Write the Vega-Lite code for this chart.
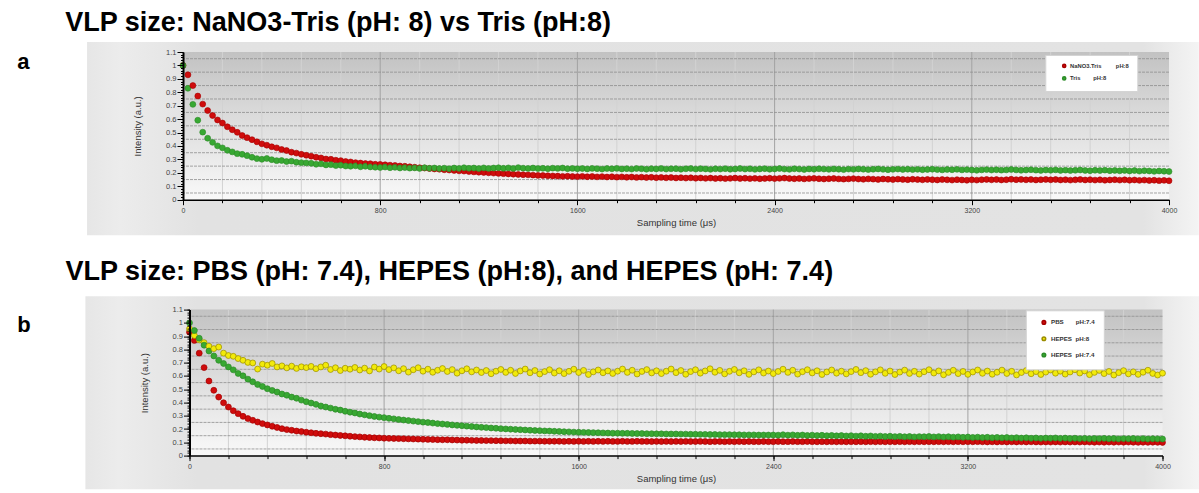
{
  "$schema": "https://vega.github.io/schema/vega-lite/v6.json",
  "background": "white",
  "padding": {"left": 17, "top": 8, "right": 0, "bottom": 0},
  "config": {"view": {"stroke": null}, "font": "Liberation Sans"},
  "spacing": 109.6,
  "bounds": "flush",
  "center": true,
  "resolve": {"scale": {"color": "independent", "stroke": "independent"}, "legend": {"color": "independent", "stroke": "independent"}},
  "datasets": {
    "vmin": [{"v":160},{"v":320},{"v":480},{"v":640},{"v":960},{"v":1120},{"v":1280},{"v":1440},{"v":1760},{"v":1920},{"v":2080},{"v":2240},{"v":2560},{"v":2720},{"v":2880},{"v":3040},{"v":3360},{"v":3520},{"v":3680},{"v":3840}],
    "vmaj": [{"v":800},{"v":1600},{"v":2400},{"v":3200}],
    "hg": [{"v":0.05},{"v":0.15},{"v":0.25},{"v":0.35},{"v":0.45},{"v":0.55},{"v":0.65},{"v":0.75},{"v":0.85},{"v":0.95},{"v":1.05}],
    "a": [
{"t":0,"r":1,"g":1},{"t":20,"r":0.93,"g":0.83},{"t":40,"r":0.85,"g":0.71},{"t":60,"r":0.772,"g":0.592},{"t":80,"r":0.712,"g":0.503},{"t":100,"r":0.664,"g":0.458},{"t":120,"r":0.627,"g":0.427},{"t":140,"r":0.594,"g":0.401},{"t":160,"r":0.571,"g":0.386},{"t":180,"r":0.543,"g":0.368},
{"t":200,"r":0.521,"g":0.356},{"t":220,"r":0.502,"g":0.343},{"t":240,"r":0.478,"g":0.338},{"t":260,"r":0.462,"g":0.328},{"t":280,"r":0.447,"g":0.316},{"t":300,"r":0.431,"g":0.306},{"t":320,"r":0.416,"g":0.301},{"t":340,"r":0.406,"g":0.307},{"t":360,"r":0.394,"g":0.298},{"t":380,"r":0.386,"g":0.291},
{"t":400,"r":0.374,"g":0.292},{"t":420,"r":0.366,"g":0.284},{"t":440,"r":0.354,"g":0.287},{"t":460,"r":0.347,"g":0.279},{"t":480,"r":0.338,"g":0.276},{"t":500,"r":0.331,"g":0.274},{"t":520,"r":0.324,"g":0.271},{"t":540,"r":0.316,"g":0.264},{"t":560,"r":0.311,"g":0.267},{"t":580,"r":0.303,"g":0.259},
{"t":600,"r":0.301,"g":0.261},{"t":620,"r":0.294,"g":0.254},{"t":640,"r":0.291,"g":0.257},{"t":660,"r":0.284,"g":0.251},{"t":680,"r":0.281,"g":0.249},{"t":700,"r":0.276,"g":0.252},{"t":720,"r":0.273,"g":0.245},{"t":740,"r":0.269,"g":0.249},{"t":760,"r":0.268,"g":0.244},{"t":780,"r":0.264,"g":0.242},
{"t":800,"r":0.263,"g":0.24},{"t":820,"r":0.26,"g":0.243},{"t":840,"r":0.257,"g":0.238},{"t":860,"r":0.255,"g":0.241},{"t":880,"r":0.251,"g":0.236},{"t":900,"r":0.249,"g":0.239},{"t":920,"r":0.245,"g":0.235},{"t":940,"r":0.242,"g":0.237},{"t":960,"r":0.238,"g":0.233},{"t":980,"r":0.236,"g":0.238},
{"t":1000,"r":0.232,"g":0.234},{"t":1020,"r":0.229,"g":0.236},{"t":1040,"r":0.227,"g":0.232},{"t":1060,"r":0.223,"g":0.235},{"t":1080,"r":0.221,"g":0.231},{"t":1100,"r":0.218,"g":0.236},{"t":1120,"r":0.215,"g":0.233},{"t":1140,"r":0.213,"g":0.238},{"t":1160,"r":0.21,"g":0.234},{"t":1180,"r":0.207,"g":0.236},
{"t":1200,"r":0.205,"g":0.232},{"t":1220,"r":0.203,"g":0.237},{"t":1240,"r":0.2,"g":0.233},{"t":1260,"r":0.198,"g":0.236},{"t":1280,"r":0.196,"g":0.238},{"t":1300,"r":0.194,"g":0.234},{"t":1320,"r":0.192,"g":0.237},{"t":1340,"r":0.19,"g":0.233},{"t":1360,"r":0.188,"g":0.239},{"t":1380,"r":0.186,"g":0.235},
{"t":1400,"r":0.185,"g":0.233},{"t":1420,"r":0.183,"g":0.236},{"t":1440,"r":0.181,"g":0.232},{"t":1460,"r":0.18,"g":0.234},{"t":1480,"r":0.178,"g":0.231},{"t":1500,"r":0.177,"g":0.235},{"t":1520,"r":0.176,"g":0.233},{"t":1540,"r":0.174,"g":0.236},{"t":1560,"r":0.175,"g":0.231},{"t":1580,"r":0.173,"g":0.233},
{"t":1600,"r":0.172,"g":0.23},{"t":1620,"r":0.174,"g":0.232},{"t":1640,"r":0.171,"g":0.229},{"t":1660,"r":0.173,"g":0.233},{"t":1680,"r":0.17,"g":0.231},{"t":1700,"r":0.172,"g":0.228},{"t":1720,"r":0.169,"g":0.232},{"t":1740,"r":0.171,"g":0.23},{"t":1760,"r":0.168,"g":0.233},{"t":1780,"r":0.17,"g":0.229},
{"t":1800,"r":0.167,"g":0.231},{"t":1820,"r":0.169,"g":0.228},{"t":1840,"r":0.166,"g":0.232},{"t":1860,"r":0.168,"g":0.23},{"t":1880,"r":0.165,"g":0.227},{"t":1900,"r":0.167,"g":0.231},{"t":1920,"r":0.164,"g":0.229},{"t":1940,"r":0.166,"g":0.232},{"t":1960,"r":0.163,"g":0.228},{"t":1980,"r":0.165,"g":0.23},
{"t":2000,"r":0.162,"g":0.231},{"t":2020,"r":0.164,"g":0.227},{"t":2040,"r":0.161,"g":0.23},{"t":2060,"r":0.163,"g":0.232},{"t":2080,"r":0.16,"g":0.228},{"t":2100,"r":0.162,"g":0.231},{"t":2120,"r":0.159,"g":0.229},{"t":2140,"r":0.161,"g":0.226},{"t":2160,"r":0.158,"g":0.23},{"t":2180,"r":0.16,"g":0.228},
{"t":2200,"r":0.157,"g":0.231},{"t":2220,"r":0.159,"g":0.227},{"t":2240,"r":0.161,"g":0.229},{"t":2260,"r":0.158,"g":0.232},{"t":2280,"r":0.16,"g":0.228},{"t":2300,"r":0.157,"g":0.23},{"t":2320,"r":0.159,"g":0.226},{"t":2340,"r":0.156,"g":0.229},{"t":2360,"r":0.158,"g":0.231},{"t":2380,"r":0.16,"g":0.227},
{"t":2400,"r":0.157,"g":0.229},{"t":2420,"r":0.159,"g":0.232},{"t":2440,"r":0.161,"g":0.228},{"t":2460,"r":0.158,"g":0.226},{"t":2480,"r":0.156,"g":0.23},{"t":2500,"r":0.158,"g":0.228},{"t":2520,"r":0.155,"g":0.225},{"t":2540,"r":0.157,"g":0.229},{"t":2560,"r":0.159,"g":0.227},{"t":2580,"r":0.156,"g":0.23},
{"t":2600,"r":0.154,"g":0.228},{"t":2620,"r":0.156,"g":0.226},{"t":2640,"r":0.158,"g":0.229},{"t":2660,"r":0.155,"g":0.227},{"t":2680,"r":0.153,"g":0.224},{"t":2700,"r":0.155,"g":0.228},{"t":2720,"r":0.157,"g":0.226},{"t":2740,"r":0.154,"g":0.229},{"t":2760,"r":0.152,"g":0.227},{"t":2780,"r":0.155,"g":0.224},
{"t":2800,"r":0.153,"g":0.227},{"t":2820,"r":0.151,"g":0.229},{"t":2840,"r":0.154,"g":0.226},{"t":2860,"r":0.152,"g":0.223},{"t":2880,"r":0.15,"g":0.226},{"t":2900,"r":0.153,"g":0.228},{"t":2920,"r":0.151,"g":0.225},{"t":2940,"r":0.149,"g":0.227},{"t":2960,"r":0.152,"g":0.224},{"t":2980,"r":0.15,"g":0.226},
{"t":3000,"r":0.148,"g":0.223},{"t":3020,"r":0.151,"g":0.225},{"t":3040,"r":0.149,"g":0.227},{"t":3060,"r":0.147,"g":0.224},{"t":3080,"r":0.15,"g":0.222},{"t":3100,"r":0.148,"g":0.225},{"t":3120,"r":0.146,"g":0.223},{"t":3140,"r":0.149,"g":0.226},{"t":3160,"r":0.147,"g":0.222},{"t":3180,"r":0.145,"g":0.224},
{"t":3200,"r":0.148,"g":0.221},{"t":3220,"r":0.146,"g":0.219},{"t":3240,"r":0.149,"g":0.222},{"t":3260,"r":0.151,"g":0.224},{"t":3280,"r":0.148,"g":0.221},{"t":3300,"r":0.15,"g":0.223},{"t":3320,"r":0.147,"g":0.22},{"t":3340,"r":0.149,"g":0.222},{"t":3360,"r":0.152,"g":0.225},{"t":3380,"r":0.149,"g":0.222},
{"t":3400,"r":0.151,"g":0.219},{"t":3420,"r":0.148,"g":0.221},{"t":3440,"r":0.15,"g":0.223},{"t":3460,"r":0.147,"g":0.22},{"t":3480,"r":0.149,"g":0.218},{"t":3500,"r":0.151,"g":0.221},{"t":3520,"r":0.148,"g":0.219},{"t":3540,"r":0.15,"g":0.222},{"t":3560,"r":0.147,"g":0.218},{"t":3580,"r":0.149,"g":0.22},
{"t":3600,"r":0.146,"g":0.217},{"t":3620,"r":0.148,"g":0.219},{"t":3640,"r":0.15,"g":0.221},{"t":3660,"r":0.147,"g":0.218},{"t":3680,"r":0.149,"g":0.216},{"t":3700,"r":0.146,"g":0.219},{"t":3720,"r":0.148,"g":0.217},{"t":3740,"r":0.145,"g":0.22},{"t":3760,"r":0.147,"g":0.216},{"t":3780,"r":0.149,"g":0.218},
{"t":3800,"r":0.146,"g":0.215},{"t":3820,"r":0.148,"g":0.218},{"t":3840,"r":0.145,"g":0.214},{"t":3860,"r":0.147,"g":0.217},{"t":3880,"r":0.144,"g":0.213},{"t":3900,"r":0.146,"g":0.216},{"t":3920,"r":0.143,"g":0.214},{"t":3940,"r":0.145,"g":0.211},{"t":3960,"r":0.142,"g":0.214},{"t":3980,"r":0.144,"g":0.212},
{"t":4000,"r":0.141,"g":0.21}
    ],
    "b": [
{"t":0,"p":0.93,"y":0.955,"h":1},{"t":20,"p":0.868,"y":0.905,"h":0.942},{"t":40,"p":0.772,"y":0.872,"h":0.884},{"t":60,"p":0.663,"y":0.851,"h":0.832},{"t":80,"p":0.562,"y":0.824,"h":0.788},{"t":100,"p":0.492,"y":0.806,"h":0.751},{"t":120,"p":0.441,"y":0.818,"h":0.718},{"t":140,"p":0.398,"y":0.772,"h":0.694},{"t":160,"p":0.366,"y":0.754,"h":0.668},{"t":180,"p":0.338,"y":0.748,"h":0.646},
{"t":200,"p":0.316,"y":0.731,"h":0.619},{"t":220,"p":0.296,"y":0.718,"h":0.601},{"t":240,"p":0.279,"y":0.702,"h":0.576},{"t":260,"p":0.266,"y":0.698,"h":0.556},{"t":280,"p":0.253,"y":0.652,"h":0.536},{"t":300,"p":0.241,"y":0.689,"h":0.521},{"t":320,"p":0.231,"y":0.681,"h":0.504},{"t":340,"p":0.221,"y":0.694,"h":0.491},{"t":360,"p":0.212,"y":0.668,"h":0.479},{"t":380,"p":0.203,"y":0.676,"h":0.464},
{"t":400,"p":0.196,"y":0.661,"h":0.455},{"t":420,"p":0.191,"y":0.674,"h":0.441},{"t":440,"p":0.185,"y":0.657,"h":0.432},{"t":460,"p":0.181,"y":0.669,"h":0.418},{"t":480,"p":0.176,"y":0.663,"h":0.406},{"t":500,"p":0.172,"y":0.672,"h":0.396},{"t":520,"p":0.168,"y":0.655,"h":0.386},{"t":540,"p":0.165,"y":0.668,"h":0.374},{"t":560,"p":0.162,"y":0.681,"h":0.366},{"t":580,"p":0.158,"y":0.649,"h":0.358},
{"t":600,"p":0.155,"y":0.662,"h":0.349},{"t":620,"p":0.152,"y":0.641,"h":0.343},{"t":640,"p":0.149,"y":0.658,"h":0.334},{"t":660,"p":0.146,"y":0.651,"h":0.327},{"t":680,"p":0.143,"y":0.664,"h":0.321},{"t":700,"p":0.141,"y":0.645,"h":0.313},{"t":720,"p":0.138,"y":0.659,"h":0.307},{"t":740,"p":0.136,"y":0.638,"h":0.301},{"t":760,"p":0.134,"y":0.667,"h":0.295},{"t":780,"p":0.133,"y":0.652,"h":0.29},
{"t":800,"p":0.131,"y":0.671,"h":0.286},{"t":820,"p":0.13,"y":0.648,"h":0.281},{"t":840,"p":0.129,"y":0.661,"h":0.277},{"t":860,"p":0.128,"y":0.639,"h":0.272},{"t":880,"p":0.127,"y":0.655,"h":0.268},{"t":900,"p":0.126,"y":0.629,"h":0.264},{"t":920,"p":0.125,"y":0.647,"h":0.26},{"t":940,"p":0.124,"y":0.662,"h":0.256},{"t":960,"p":0.123,"y":0.636,"h":0.252},{"t":980,"p":0.122,"y":0.651,"h":0.249},
{"t":1000,"p":0.121,"y":0.628,"h":0.245},{"t":1020,"p":0.12,"y":0.643,"h":0.241},{"t":1040,"p":0.119,"y":0.656,"h":0.238},{"t":1060,"p":0.119,"y":0.634,"h":0.235},{"t":1080,"p":0.118,"y":0.648,"h":0.231},{"t":1100,"p":0.117,"y":0.621,"h":0.228},{"t":1120,"p":0.116,"y":0.639,"h":0.225},{"t":1140,"p":0.116,"y":0.654,"h":0.222},{"t":1160,"p":0.115,"y":0.631,"h":0.219},{"t":1180,"p":0.114,"y":0.645,"h":0.216},
{"t":1200,"p":0.114,"y":0.626,"h":0.213},{"t":1220,"p":0.113,"y":0.641,"h":0.211},{"t":1240,"p":0.113,"y":0.617,"h":0.208},{"t":1260,"p":0.112,"y":0.636,"h":0.206},{"t":1280,"p":0.112,"y":0.649,"h":0.203},{"t":1300,"p":0.111,"y":0.627,"h":0.201},{"t":1320,"p":0.111,"y":0.643,"h":0.199},{"t":1340,"p":0.11,"y":0.619,"h":0.197},{"t":1360,"p":0.11,"y":0.638,"h":0.195},{"t":1380,"p":0.11,"y":0.652,"h":0.193},
{"t":1400,"p":0.109,"y":0.624,"h":0.191},{"t":1420,"p":0.109,"y":0.641,"h":0.189},{"t":1440,"p":0.109,"y":0.615,"h":0.188},{"t":1460,"p":0.108,"y":0.633,"h":0.186},{"t":1480,"p":0.108,"y":0.647,"h":0.185},{"t":1500,"p":0.108,"y":0.622,"h":0.183},{"t":1520,"p":0.108,"y":0.639,"h":0.182},{"t":1540,"p":0.107,"y":0.618,"h":0.18},{"t":1560,"p":0.108,"y":0.635,"h":0.179},{"t":1580,"p":0.107,"y":0.651,"h":0.177},
{"t":1600,"p":0.108,"y":0.626,"h":0.176},{"t":1620,"p":0.107,"y":0.642,"h":0.175},{"t":1640,"p":0.108,"y":0.611,"h":0.174},{"t":1660,"p":0.107,"y":0.631,"h":0.173},{"t":1680,"p":0.108,"y":0.645,"h":0.172},{"t":1700,"p":0.107,"y":0.624,"h":0.171},{"t":1720,"p":0.108,"y":0.638,"h":0.17},{"t":1740,"p":0.107,"y":0.619,"h":0.169},{"t":1760,"p":0.107,"y":0.636,"h":0.169},{"t":1780,"p":0.108,"y":0.652,"h":0.168},
{"t":1800,"p":0.107,"y":0.627,"h":0.168},{"t":1820,"p":0.107,"y":0.643,"h":0.167},{"t":1840,"p":0.108,"y":0.615,"h":0.166},{"t":1860,"p":0.107,"y":0.634,"h":0.166},{"t":1880,"p":0.107,"y":0.648,"h":0.165},{"t":1900,"p":0.106,"y":0.623,"h":0.165},{"t":1920,"p":0.107,"y":0.639,"h":0.164},{"t":1940,"p":0.106,"y":0.618,"h":0.164},{"t":1960,"p":0.107,"y":0.636,"h":0.163},{"t":1980,"p":0.106,"y":0.652,"h":0.163},
{"t":2000,"p":0.107,"y":0.625,"h":0.163},{"t":2020,"p":0.106,"y":0.641,"h":0.162},{"t":2040,"p":0.107,"y":0.613,"h":0.162},{"t":2060,"p":0.106,"y":0.633,"h":0.161},{"t":2080,"p":0.106,"y":0.647,"h":0.161},{"t":2100,"p":0.107,"y":0.621,"h":0.16},{"t":2120,"p":0.106,"y":0.638,"h":0.16},{"t":2140,"p":0.105,"y":0.654,"h":0.159},{"t":2160,"p":0.106,"y":0.628,"h":0.159},{"t":2180,"p":0.106,"y":0.642,"h":0.158},
{"t":2200,"p":0.105,"y":0.616,"h":0.158},{"t":2220,"p":0.106,"y":0.635,"h":0.158},{"t":2240,"p":0.105,"y":0.649,"h":0.157},{"t":2260,"p":0.106,"y":0.624,"h":0.157},{"t":2280,"p":0.105,"y":0.639,"h":0.156},{"t":2300,"p":0.106,"y":0.612,"h":0.156},{"t":2320,"p":0.105,"y":0.631,"h":0.156},{"t":2340,"p":0.105,"y":0.646,"h":0.155},{"t":2360,"p":0.106,"y":0.622,"h":0.155},{"t":2380,"p":0.105,"y":0.637,"h":0.155},
{"t":2400,"p":0.105,"y":0.618,"h":0.155},{"t":2420,"p":0.106,"y":0.634,"h":0.154},{"t":2440,"p":0.105,"y":0.651,"h":0.157},{"t":2460,"p":0.105,"y":0.627,"h":0.154},{"t":2480,"p":0.106,"y":0.643,"h":0.156},{"t":2500,"p":0.105,"y":0.614,"h":0.153},{"t":2520,"p":0.105,"y":0.632,"h":0.155},{"t":2540,"p":0.106,"y":0.647,"h":0.152},{"t":2560,"p":0.105,"y":0.623,"h":0.154},{"t":2580,"p":0.104,"y":0.639,"h":0.151},
{"t":2600,"p":0.105,"y":0.611,"h":0.153},{"t":2620,"p":0.104,"y":0.63,"h":0.15},{"t":2640,"p":0.105,"y":0.645,"h":0.152},{"t":2660,"p":0.104,"y":0.621,"h":0.149},{"t":2680,"p":0.105,"y":0.636,"h":0.151},{"t":2700,"p":0.104,"y":0.616,"h":0.148},{"t":2720,"p":0.105,"y":0.633,"h":0.15},{"t":2740,"p":0.104,"y":0.649,"h":0.147},{"t":2760,"p":0.105,"y":0.625,"h":0.149},{"t":2780,"p":0.104,"y":0.64,"h":0.146},
{"t":2800,"p":0.105,"y":0.613,"h":0.148},{"t":2820,"p":0.104,"y":0.631,"h":0.145},{"t":2840,"p":0.105,"y":0.646,"h":0.147},{"t":2860,"p":0.104,"y":0.62,"h":0.144},{"t":2880,"p":0.105,"y":0.637,"h":0.146},{"t":2900,"p":0.104,"y":0.611,"h":0.143},{"t":2920,"p":0.105,"y":0.629,"h":0.145},{"t":2940,"p":0.104,"y":0.644,"h":0.142},{"t":2960,"p":0.105,"y":0.619,"h":0.144},{"t":2980,"p":0.104,"y":0.635,"h":0.141},
{"t":3000,"p":0.105,"y":0.614,"h":0.143},{"t":3020,"p":0.104,"y":0.632,"h":0.142},{"t":3040,"p":0.105,"y":0.647,"h":0.144},{"t":3060,"p":0.104,"y":0.622,"h":0.141},{"t":3080,"p":0.105,"y":0.638,"h":0.143},{"t":3100,"p":0.104,"y":0.609,"h":0.14},{"t":3120,"p":0.105,"y":0.627,"h":0.142},{"t":3140,"p":0.104,"y":0.643,"h":0.139},{"t":3160,"p":0.105,"y":0.618,"h":0.141},{"t":3180,"p":0.104,"y":0.634,"h":0.138},
{"t":3200,"p":0.105,"y":0.612,"h":0.14},{"t":3220,"p":0.104,"y":0.63,"h":0.137},{"t":3240,"p":0.105,"y":0.645,"h":0.139},{"t":3260,"p":0.104,"y":0.62,"h":0.136},{"t":3280,"p":0.103,"y":0.637,"h":0.138},{"t":3300,"p":0.104,"y":0.613,"h":0.135},{"t":3320,"p":0.103,"y":0.628,"h":0.137},{"t":3340,"p":0.104,"y":0.644,"h":0.134},{"t":3360,"p":0.103,"y":0.619,"h":0.136},{"t":3380,"p":0.104,"y":0.635,"h":0.133},
{"t":3400,"p":0.103,"y":0.608,"h":0.135},{"t":3420,"p":0.104,"y":0.626,"h":0.132},{"t":3440,"p":0.103,"y":0.641,"h":0.134},{"t":3460,"p":0.104,"y":0.617,"h":0.131},{"t":3480,"p":0.103,"y":0.633,"h":0.133},{"t":3500,"p":0.102,"y":0.611,"h":0.13},{"t":3520,"p":0.103,"y":0.629,"h":0.132},{"t":3540,"p":0.102,"y":0.645,"h":0.131},{"t":3560,"p":0.103,"y":0.621,"h":0.133},{"t":3580,"p":0.102,"y":0.636,"h":0.13},
{"t":3600,"p":0.103,"y":0.614,"h":0.132},{"t":3620,"p":0.102,"y":0.63,"h":0.129},{"t":3640,"p":0.103,"y":0.647,"h":0.131},{"t":3660,"p":0.102,"y":0.622,"h":0.128},{"t":3680,"p":0.103,"y":0.638,"h":0.13},{"t":3700,"p":0.102,"y":0.61,"h":0.127},{"t":3720,"p":0.101,"y":0.627,"h":0.129},{"t":3740,"p":0.102,"y":0.642,"h":0.128},{"t":3760,"p":0.101,"y":0.618,"h":0.13},{"t":3780,"p":0.102,"y":0.634,"h":0.127},
{"t":3800,"p":0.101,"y":0.607,"h":0.129},{"t":3820,"p":0.102,"y":0.625,"h":0.126},{"t":3840,"p":0.101,"y":0.64,"h":0.128},{"t":3860,"p":0.102,"y":0.616,"h":0.127},{"t":3880,"p":0.101,"y":0.631,"h":0.129},{"t":3900,"p":0.1,"y":0.612,"h":0.126},{"t":3920,"p":0.101,"y":0.628,"h":0.128},{"t":3940,"p":0.1,"y":0.643,"h":0.125},{"t":3960,"p":0.101,"y":0.619,"h":0.127},{"t":3980,"p":0.1,"y":0.607,"h":0.126},
{"t":4000,"p":0.099,"y":0.621,"h":0.125}
    ]
  },
  "vconcat": [
    {
      "width": 986,
      "height": 147.7,
      "resolve": {"axis": {"x": "independent", "y": "independent"}},
      "title": {"text": "VLP size: NaNO3-Tris (pH: 8) vs Tris (pH:8)", "anchor": "start", "frame": "group", "dx": -117.7, "offset": 5, "fontSize": 27, "fontWeight": "bold", "font": "Liberation Sans", "color": "#000000"},
      "layer": [
        {
          "data": {"values": [{}]},
          "mark": {"type": "rect", "fill": {"gradient": "linear", "x1": 0, "y1": 0, "x2": 1, "y2": 0, "stops": [{"offset": 0, "color": "#e6e6e6"}, {"offset": 0.03, "color": "#ececec"}, {"offset": 0.1, "color": "#e2e2e2"}, {"offset": 0.95, "color": "#e3e3e3"}, {"offset": 1, "color": "#f4f4f4"}]}},
          "encoding": {
            "x": {"datum": -389.3, "type": "quantitative", "scale": {"domain": [0, 4000], "nice": false, "zero": false}, "axis": null},
            "x2": {"datum": 4121},
            "y": {"datum": 1.1745, "type": "quantitative", "scale": {"domain": [0, 1.1], "nice": false, "zero": false}, "axis": null},
            "y2": {"datum": -0.265}
          }
        },
        {
          "data": {"values": [{}]},
          "mark": {"type": "rect", "fill": {"gradient": "linear", "x1": 0, "y1": 0, "x2": 0, "y2": 1, "stops": [{"offset": 0, "color": "#c2c2c2"}, {"offset": 0.45, "color": "#dcdcdc"}, {"offset": 1, "color": "#f9f9f9"}]}},
          "encoding": {
            "x": {"datum": 0, "type": "quantitative", "scale": {"domain": [0, 4000], "nice": false, "zero": false}, "axis": null},
            "x2": {"datum": 4000},
            "y": {"datum": 1.1, "type": "quantitative", "scale": {"domain": [0, 1.1], "nice": false, "zero": false}, "axis": null},
            "y2": {"datum": 0}
          }
        },
        {
          "data": {"name": "vmin"},
          "mark": {"type": "rule", "color": "#d2d2d2", "strokeWidth": 1},
          "encoding": {"x": {"field": "v", "type": "quantitative", "scale": {"domain": [0, 4000], "nice": false, "zero": false},
            "axis": {"orient": "bottom", "values": [0,160,320,480,640,800,960,1120,1280,1440,1600,1760,1920,2080,2240,2400,2560,2720,2880,3040,3200,3360,3520,3680,3840,4000], "labels": false, "domain": false, "grid": false, "title": null, "tickColor": "#000000", "tickSize": 3, "tickWidth": 1, "zindex": 1}}}
        },
        {
          "data": {"name": "vmaj"},
          "mark": {"type": "rule", "color": "#a3a3a3", "strokeWidth": 1},
          "encoding": {"x": {"field": "v", "type": "quantitative", "scale": {"domain": [0, 4000], "nice": false, "zero": false}, "axis": null}}
        },
        {
          "data": {"name": "hg"},
          "mark": {"type": "rule", "color": "#8e8e8e", "strokeWidth": 0.8, "strokeDash": [3, 1]},
          "encoding": {"y": {"field": "v", "type": "quantitative", "scale": {"domain": [0, 1.1], "nice": false, "zero": false},
            "axis": {"orient": "left", "values": [0,0.02,0.04,0.06,0.08,0.1,0.12,0.14,0.16,0.18,0.2,0.22,0.24,0.26,0.28,0.3,0.32,0.34,0.36,0.38,0.4,0.42,0.44,0.46,0.48,0.5,0.52,0.54,0.56,0.58,0.6,0.62,0.64,0.66,0.68,0.7,0.72,0.74,0.76,0.78,0.8,0.82,0.84,0.86,0.88,0.9,0.92,0.94,0.96,0.98,1,1.02,1.04,1.06,1.08,1.1], "labels": false, "domain": false, "grid": false, "title": null, "tickColor": "#000000", "tickSize": 2.5, "tickWidth": 1, "zindex": 1}}}
        },
        {
          "data": {"name": "a"},
          "transform": [{"fold": ["r", "g"], "as": ["s", "v"]}],
          "mark": {"type": "point", "filled": true, "size": 35, "strokeWidth": 0.6, "opacity": 1},
          "encoding": {
            "x": {"field": "t", "type": "quantitative", "scale": {"domain": [0, 4000], "nice": false, "zero": false},
              "axis": {"orient": "bottom", "values": [0,800,1600,2400,3200,4000], "format": "d", "labelFlush": false, "labelOverlap": false, "labelFontSize": 7, "labelColor": "#444444", "labelPadding": 2, "tickColor": "#000000", "tickSize": 5, "domainColor": "#000000", "domainWidth": 1.5, "grid": false, "title": "Sampling time (μs)", "titleFontSize": 9.5, "titleFontWeight": "normal", "titleColor": "#333333", "titlePadding": 4, "zindex": 1}},
            "y": {"field": "v", "type": "quantitative", "scale": {"domain": [0, 1.1], "nice": false, "zero": false},
              "axis": {"orient": "left", "values": [0,0.1,0.2,0.3,0.4,0.5,0.6,0.7,0.8,0.9,1,1.1], "format": ".1~f", "labelOverlap": false, "labelFontSize": 7.5, "labelColor": "#444444", "labelPadding": 1, "tickColor": "#000000", "tickSize": 6, "domainColor": "#000000", "domainWidth": 2, "grid": false, "title": "Intensity (a.u.)", "titleFontSize": 9.5, "titleFontWeight": "normal", "titleColor": "#333333", "titlePadding": 23, "zindex": 1}},
            "color": {"field": "s", "type": "nominal", "scale": {"domain": ["r", "g"], "range": ["#cf0c0c", "#38a832"]},
              "legend": {"orient": "none", "legendX": 862.3, "legendY": 3, "direction": "vertical", "title": null, "fillColor": "#ffffff", "strokeColor": "#d4d4d4", "padding": 8, "symbolType": "circle", "symbolSize": 10, "symbolOffset": 8, "labelOffset": 3, "labelFontSize": 5.8, "labelFont": "Liberation Sans", "labelFontWeight": "bold", "labelColor": "#333333", "rowPadding": 2.5,
                "labelExpr": "datum.value == 'r' ? 'NaNO3.Tris\u00a0\u00a0\u00a0\u00a0\u00a0\u00a0\u00a0\u00a0\u00a0pH:8\u00a0\u00a0\u00a0\u00a0\u00a0' : 'Tris\u00a0\u00a0\u00a0\u00a0\u00a0\u00a0\u00a0\u00a0pH:8'"}},
            "stroke": {"field": "s", "type": "nominal", "scale": {"domain": ["r", "g"], "range": ["#a50000", "#2b8a27"]}, "legend": null}
          }
        },
        {
          "data": {"values": [{}]},
          "mark": {"type": "text", "text": "a", "fontSize": 22, "fontWeight": "bold", "font": "Liberation Sans", "align": "left", "baseline": "alphabetic", "color": "#000000"},
          "encoding": {
            "x": {"datum": -672, "type": "quantitative", "scale": {"domain": [0, 4000], "nice": false, "zero": false}, "axis": null},
            "y": {"datum": 0.973, "type": "quantitative", "scale": {"domain": [0, 1.1], "nice": false, "zero": false}, "axis": null}
          }
        }
      ]
    },
    {
      "width": 973,
      "height": 146,
      "resolve": {"axis": {"x": "independent", "y": "independent"}},
      "title": {"text": "VLP size: PBS (pH: 7.4), HEPES (pH:8), and HEPES (pH: 7.4)", "anchor": "start", "frame": "group", "dx": -124, "offset": 10, "fontSize": 27, "fontWeight": "bold", "font": "Liberation Sans", "color": "#000000"},
      "layer": [
        {
          "data": {"values": [{}]},
          "mark": {"type": "rect", "fill": {"gradient": "linear", "x1": 0, "y1": 0, "x2": 1, "y2": 0, "stops": [{"offset": 0, "color": "#e6e6e6"}, {"offset": 0.03, "color": "#ececec"}, {"offset": 0.1, "color": "#e2e2e2"}, {"offset": 0.95, "color": "#e3e3e3"}, {"offset": 1, "color": "#f4f4f4"}]}},
          "encoding": {
            "x": {"datum": -428, "type": "quantitative", "scale": {"domain": [0, 4000], "nice": false, "zero": false}, "axis": null},
            "x2": {"datum": 4151},
            "y": {"datum": 1.2, "type": "quantitative", "scale": {"domain": [0, 1.1], "nice": false, "zero": false}, "axis": null},
            "y2": {"datum": -0.254}
          }
        },
        {
          "data": {"values": [{}]},
          "mark": {"type": "rect", "fill": {"gradient": "linear", "x1": 0, "y1": 0, "x2": 0, "y2": 1, "stops": [{"offset": 0, "color": "#c2c2c2"}, {"offset": 0.45, "color": "#dcdcdc"}, {"offset": 1, "color": "#f9f9f9"}]}},
          "encoding": {
            "x": {"datum": 0, "type": "quantitative", "scale": {"domain": [0, 4000], "nice": false, "zero": false}, "axis": null},
            "x2": {"datum": 4000},
            "y": {"datum": 1.1, "type": "quantitative", "scale": {"domain": [0, 1.1], "nice": false, "zero": false}, "axis": null},
            "y2": {"datum": 0}
          }
        },
        {
          "data": {"name": "vmin"},
          "mark": {"type": "rule", "color": "#d2d2d2", "strokeWidth": 1},
          "encoding": {"x": {"field": "v", "type": "quantitative", "scale": {"domain": [0, 4000], "nice": false, "zero": false},
            "axis": {"orient": "bottom", "values": [0,160,320,480,640,800,960,1120,1280,1440,1600,1760,1920,2080,2240,2400,2560,2720,2880,3040,3200,3360,3520,3680,3840,4000], "labels": false, "domain": false, "grid": false, "title": null, "tickColor": "#000000", "tickSize": 3, "tickWidth": 1, "zindex": 1}}}
        },
        {
          "data": {"name": "vmaj"},
          "mark": {"type": "rule", "color": "#a3a3a3", "strokeWidth": 1},
          "encoding": {"x": {"field": "v", "type": "quantitative", "scale": {"domain": [0, 4000], "nice": false, "zero": false}, "axis": null}}
        },
        {
          "data": {"name": "hg"},
          "mark": {"type": "rule", "color": "#8e8e8e", "strokeWidth": 0.8, "strokeDash": [3, 1]},
          "encoding": {"y": {"field": "v", "type": "quantitative", "scale": {"domain": [0, 1.1], "nice": false, "zero": false},
            "axis": {"orient": "left", "values": [0,0.02,0.04,0.06,0.08,0.1,0.12,0.14,0.16,0.18,0.2,0.22,0.24,0.26,0.28,0.3,0.32,0.34,0.36,0.38,0.4,0.42,0.44,0.46,0.48,0.5,0.52,0.54,0.56,0.58,0.6,0.62,0.64,0.66,0.68,0.7,0.72,0.74,0.76,0.78,0.8,0.82,0.84,0.86,0.88,0.9,0.92,0.94,0.96,0.98,1,1.02,1.04,1.06,1.08,1.1], "labels": false, "domain": false, "grid": false, "title": null, "tickColor": "#000000", "tickSize": 2.5, "tickWidth": 1, "zindex": 1}}}
        },
        {
          "data": {"name": "b"},
          "transform": [{"fold": ["p", "y", "h"], "as": ["s", "v"]}],
          "mark": {"type": "point", "filled": true, "size": 35, "strokeWidth": 0.7, "opacity": 1},
          "encoding": {
            "x": {"field": "t", "type": "quantitative", "scale": {"domain": [0, 4000], "nice": false, "zero": false},
              "axis": {"orient": "bottom", "values": [0,800,1600,2400,3200,4000], "format": "d", "labelFlush": false, "labelOverlap": false, "labelFontSize": 7, "labelColor": "#444444", "labelPadding": 2, "tickColor": "#000000", "tickSize": 5, "domainColor": "#000000", "domainWidth": 1.5, "grid": false, "title": "Sampling time (μs)", "titleFontSize": 9.5, "titleFontWeight": "normal", "titleColor": "#333333", "titlePadding": 4, "zindex": 1}},
            "y": {"field": "v", "type": "quantitative", "scale": {"domain": [0, 1.1], "nice": false, "zero": false},
              "axis": {"orient": "left", "values": [0,0.1,0.2,0.3,0.4,0.5,0.6,0.7,0.8,0.9,1,1.1], "format": ".1~f", "labelOverlap": false, "labelFontSize": 7.5, "labelColor": "#444444", "labelPadding": 1, "tickColor": "#000000", "tickSize": 6, "domainColor": "#000000", "domainWidth": 2, "grid": false, "title": "Intensity (a.u.)", "titleFontSize": 9.5, "titleFontWeight": "normal", "titleColor": "#333333", "titlePadding": 23, "zindex": 1}},
            "color": {"field": "s", "type": "nominal", "scale": {"domain": ["p", "y", "h"], "range": ["#cf0c0c", "#f2ea0a", "#38a832"]},
              "legend": {"orient": "none", "legendX": 836.3, "legendY": 0.7, "direction": "vertical", "title": null, "fillColor": "#ffffff", "strokeColor": "#d4d4d4", "padding": 9, "symbolType": "circle", "symbolSize": 13, "symbolOffset": 6, "labelOffset": 4, "labelFontSize": 6.2, "labelFont": "Liberation Sans", "labelFontWeight": "bold", "labelColor": "#333333", "rowPadding": 6.3,
                "labelExpr": "datum.value == 'p' ? 'PBS\u00a0\u00a0\u00a0\u00a0\u00a0\u00a0\u00a0pH:7.4' : datum.value == 'y' ? 'HEPES\u00a0\u00a0pH:8' : 'HEPES\u00a0\u00a0pH:7.4\u00a0\u00a0\u00a0\u00a0\u00a0\u00a0\u00a0\u00a0\u00a0\u00a0\u00a0\u00a0\u00a0\u00a0\u00a0\u00a0\u00a0\u00a0\u00a0\u00a0\u00a0\u00a0'"}},
            "stroke": {"field": "s", "type": "nominal", "scale": {"domain": ["p", "y", "h"], "range": ["#a50000", "#9a8c00", "#2b8a27"]}, "legend": null}
          }
        },
        {
          "data": {"values": [{}]},
          "mark": {"type": "text", "text": "b", "fontSize": 22, "fontWeight": "bold", "font": "Liberation Sans", "align": "left", "baseline": "alphabetic", "color": "#000000"},
          "encoding": {
            "x": {"datum": -708, "type": "quantitative", "scale": {"domain": [0, 4000], "nice": false, "zero": false}, "axis": null},
            "y": {"datum": 0.929, "type": "quantitative", "scale": {"domain": [0, 1.1], "nice": false, "zero": false}, "axis": null}
          }
        }
      ]
    }
  ]
}
